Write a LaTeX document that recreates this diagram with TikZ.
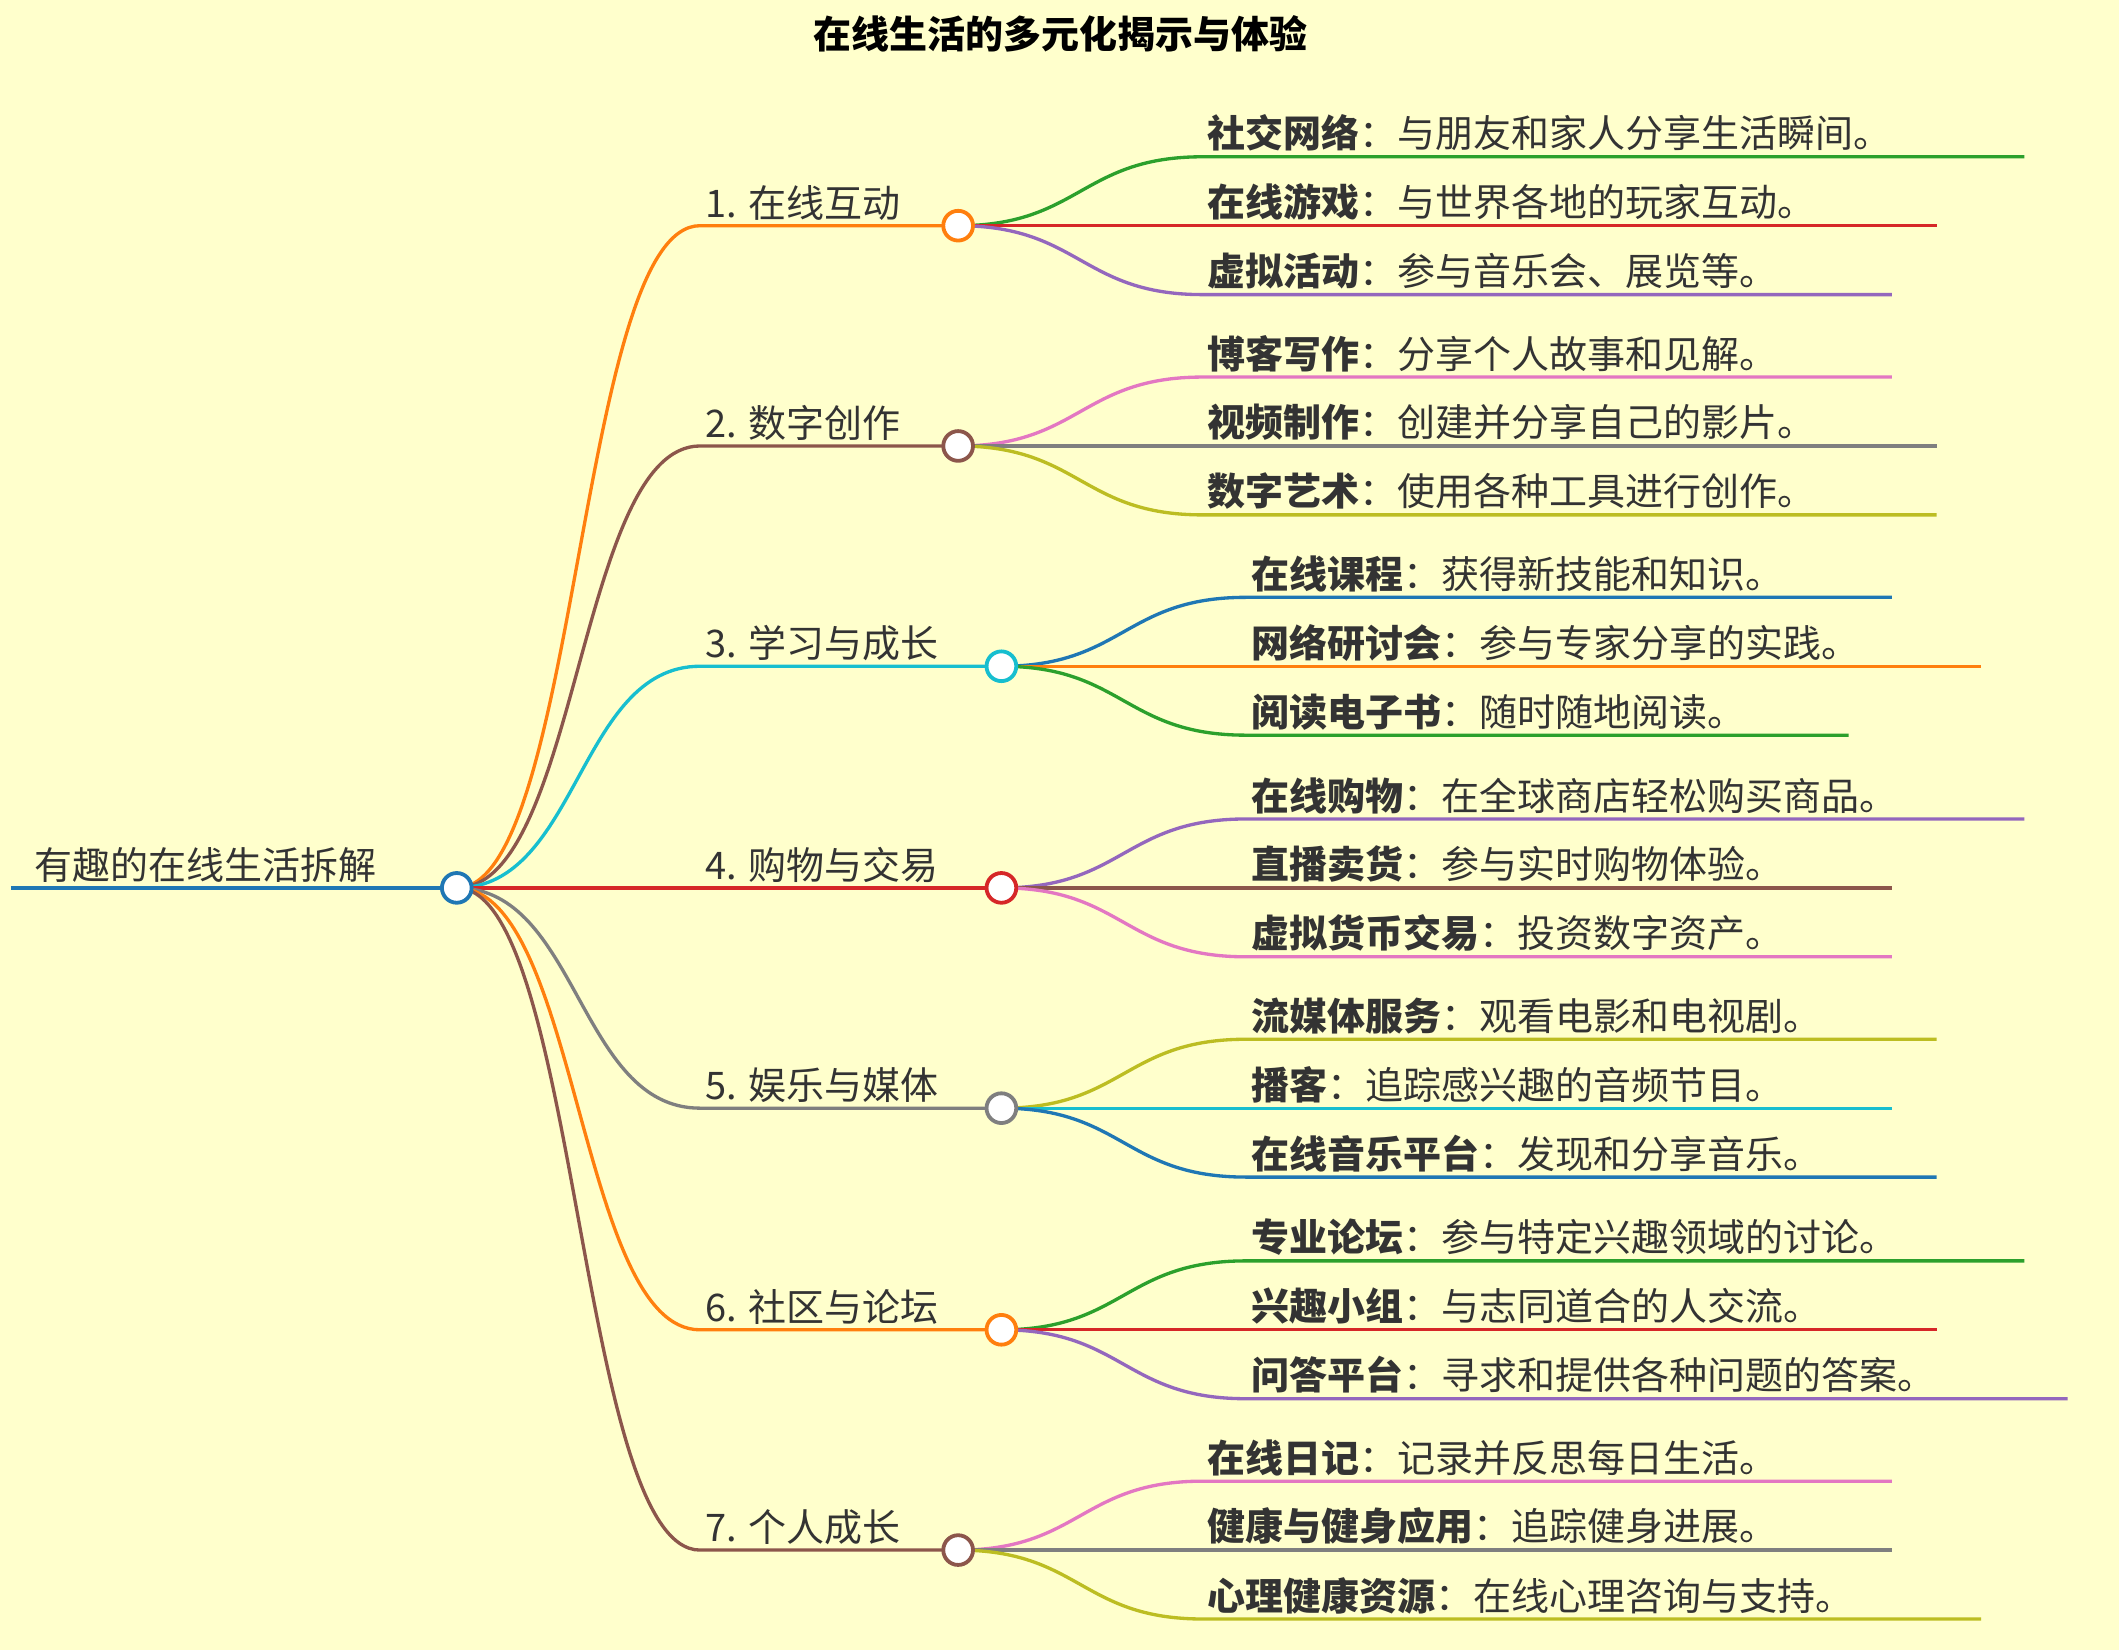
\documentclass[tikz,border=0pt]{standalone}
\usepackage{fontspec}
\setmainfont{Noto Sans CJK SC}
\usetikzlibrary{positioning,calc}
\definecolor{bg}{HTML}{FFFFCC}
\definecolor{cblue}{HTML}{1F77B4}
\definecolor{corange}{HTML}{FF7F0E}
\definecolor{cgreen}{HTML}{2CA02C}
\definecolor{cred}{HTML}{D62728}
\definecolor{cpurple}{HTML}{9467BD}
\definecolor{cbrown}{HTML}{8C564B}
\definecolor{cpink}{HTML}{E377C2}
\definecolor{cgray}{HTML}{7F7F7F}
\definecolor{colive}{HTML}{BCBD22}
\definecolor{ccyan}{HTML}{17BECF}
\tikzset{
  dot/.style={circle, draw=#1, fill=white, line width=1.6pt, minimum size=0.44cm, inner sep=0pt},
  edge/.style={draw=#1, line width=1.4pt},
  label/.style={anchor=south west, inner sep=2pt, font=\fontsize{16}{18}\selectfont, text=black!80},
}
% \leaf{name}{from}{x}{y}{x end}{color}{bold}{rest}
\newcommand{\leaf}[8]{
  \coordinate (#1) at (#3,#4);
  \coordinate (#1e) at (#5,#4);
  \draw[edge=#6] (#2) .. controls ($(#2)+(90,0)$) and ($(#1)+(-90,0)$) .. (#1) -- (#1e);
  \node[label] (#1t) at (#1) {\textbf{#7}：#8};
}
\begin{document}
\begin{tikzpicture}[x=0.02cm, y=-0.02cm]
  \fill[bg] (0,0) rectangle (1568,1221);
  \useasboundingbox (0,0) rectangle (1568,1221);
  \node[font=\fontsize{16}{18}\selectfont\bfseries] (title) at (785,25) {在线生活的多元化揭示与体验};
  % root
  \coordinate (rs) at (8,657);
  \coordinate (root) at (338,657);
  \draw[edge=cblue] (rs) -- (root);
  \node[label] (roott) at (22,657) {有趣的在线生活拆解};
  % branches
  \foreach \i/\x/\y/\c/\t in {1/709/167/corange/1. 在线互动, 2/709/330/cbrown/2. 数字创作,
      3/741/493/ccyan/3. 学习与成长, 4/741/657/cred/4. 购物与交易, 5/741/820/cgray/5. 娱乐与媒体,
      6/741/984/corange/6. 社区与论坛, 7/709/1147/cbrown/7. 个人成长} {
    \coordinate (b\i s) at (518,\y);
    \coordinate (b\i) at (\x,\y);
    \draw[edge=\c] (root) .. controls (428,657) and (428,\y) .. (b\i s) -- (b\i);
    \node[label] (b\i t) at (b\i s) {\t};
  }
  % leaves
  \leaf{l11}{b1}{890}{116}{1498}{cgreen}{社交网络}{与朋友和家人分享生活瞬间。}
  \leaf{l12}{b1}{890}{167}{1433}{cred}{在线游戏}{与世界各地的玩家互动。}
  \leaf{l13}{b1}{890}{218}{1400}{cpurple}{虚拟活动}{参与音乐会、展览等。}
  \leaf{l21}{b2}{890}{279}{1400}{cpink}{博客写作}{分享个人故事和见解。}
  \leaf{l22}{b2}{890}{330}{1433}{cgray}{视频制作}{创建并分享自己的影片。}
  \leaf{l23}{b2}{890}{381}{1433}{colive}{数字艺术}{使用各种工具进行创作。}
  \leaf{l31}{b3}{922}{442}{1400}{cblue}{在线课程}{获得新技能和知识。}
  \leaf{l32}{b3}{922}{493}{1466}{corange}{网络研讨会}{参与专家分享的实践。}
  \leaf{l33}{b3}{922}{544}{1368}{cgreen}{阅读电子书}{随时随地阅读。}
  \leaf{l41}{b4}{922}{606}{1498}{cpurple}{在线购物}{在全球商店轻松购买商品。}
  \leaf{l42}{b4}{922}{657}{1400}{cbrown}{直播卖货}{参与实时购物体验。}
  \leaf{l43}{b4}{922}{708}{1400}{cpink}{虚拟货币交易}{投资数字资产。}
  \leaf{l51}{b5}{922}{769}{1433}{colive}{流媒体服务}{观看电影和电视剧。}
  \leaf{l52}{b5}{922}{820}{1400}{ccyan}{播客}{追踪感兴趣的音频节目。}
  \leaf{l53}{b5}{922}{871}{1433}{cblue}{在线音乐平台}{发现和分享音乐。}
  \leaf{l61}{b6}{922}{933}{1498}{cgreen}{专业论坛}{参与特定兴趣领域的讨论。}
  \leaf{l62}{b6}{922}{984}{1433}{cred}{兴趣小组}{与志同道合的人交流。}
  \leaf{l63}{b6}{922}{1035}{1530}{cpurple}{问答平台}{寻求和提供各种问题的答案。}
  \leaf{l71}{b7}{890}{1096}{1400}{cpink}{在线日记}{记录并反思每日生活。}
  \leaf{l72}{b7}{890}{1147}{1400}{cgray}{健康与健身应用}{追踪健身进展。}
  \leaf{l73}{b7}{890}{1198}{1466}{colive}{心理健康资源}{在线心理咨询与支持。}
  % dots on top
  \node[dot=cblue] at (root) {};
  \foreach \i/\c in {1/corange,2/cbrown,3/ccyan,4/cred,5/cgray,6/corange,7/cbrown}
    \node[dot=\c] at (b\i) {};
\end{tikzpicture}
\end{document}
